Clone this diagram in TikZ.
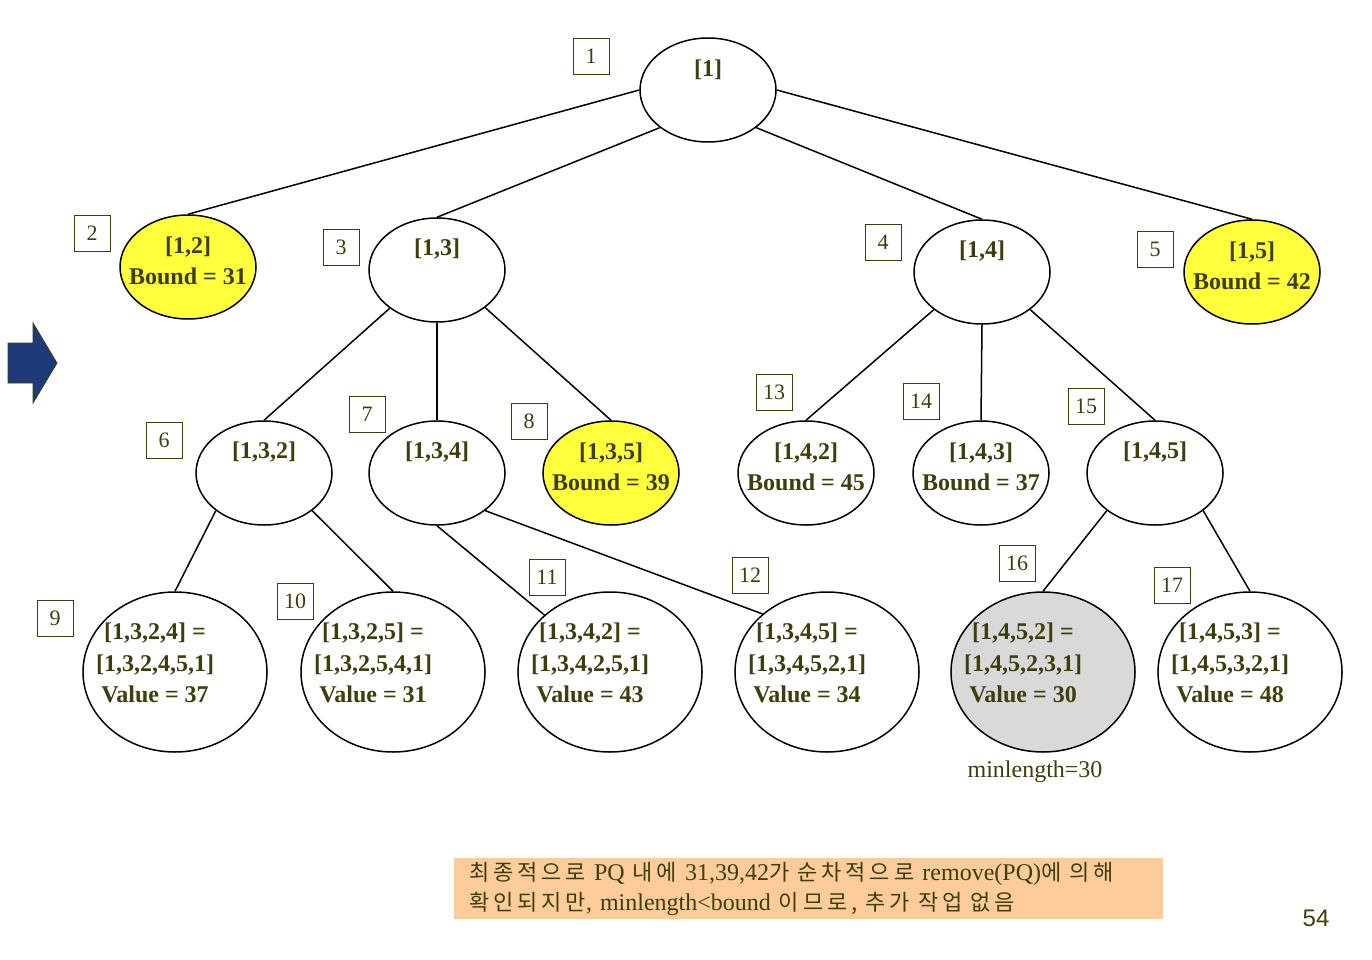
\documentclass[tikz,border=0pt]{standalone}
\usepackage{fontspec}
\setmainfont{Liberation Serif}
\newfontfamily\krfont{Noto Sans CJK KR}[LetterSpace=18]
\newfontfamily\pgnofont{Liberation Sans}
\usetikzlibrary{shapes,positioning,calc}
\definecolor{olivetext}{HTML}{3D3D0D}
\definecolor{navyarrow}{HTML}{1F3A78}
\definecolor{nodeyellow}{HTML}{FFFF3C}
\definecolor{nodegray}{HTML}{D9D9D9}
\definecolor{notepeach}{HTML}{FDCC9A}
\newcommand{\kr}[1]{{\krfont\fontsize{22}{30}\selectfont #1}}

\begin{document}
\begin{tikzpicture}[x = 1pt, y = -1pt,
  oval/.style = {ellipse, draw, line width = 1.5pt, minimum width = 136, minimum height = 104, inner sep = 0},
  leaf/.style = {ellipse, draw, line width = 1.5pt, minimum width = 184, minimum height = 160, inner sep = 0},
  lbl/.style = {font = \bfseries\fontsize{24}{31.5}\selectfont, text = olivetext, align = center, inner sep = 0},
  one/.style = {lbl, yshift = 20.5},
  two/.style = {lbl, yshift = 6},
  three/.style = {lbl, yshift = 9, xshift = -20},
  tag/.style = {draw = olivetext, line width = .8pt, minimum size = 36, inner sep = 0, font = \fontsize{22}{24}\selectfont, text = olivetext},
  link/.style = {line width = 1.5pt}]
\useasboundingbox (0,0) rectangle (1372,960);

% level 0 and 1
\node[oval, label = {[one]center:{[1]}}] (n1) at (708,90) {};
\node[oval, fill = nodeyellow, label = {[two]center:{[1,2]\\Bound = 31}}] (n12) at (188,267) {};
\node[oval, label = {[one]center:{[1,3]}}] (n13) at (437,270) {};
\node[oval, label = {[one]center:{[1,4]}}] (n14) at (982,272) {};
\node[oval, fill = nodeyellow, label = {[two]center:{[1,5]\\Bound = 42}}] (n15) at (1252,272) {};

% level 2
\node[oval, label = {[one]center:{[1,3,2]}}] (n132) at (264,473) {};
\node[oval, label = {[one]center:{[1,3,4]}}] (n134) at (437,473) {};
\node[oval, fill = nodeyellow, label = {[two]center:{[1,3,5]\\Bound = 39}}] (n135) at (611,473) {};
\node[oval, label = {[two]center:{[1,4,2]\\Bound = 45}}] (n142) at (806,473) {};
\node[oval, label = {[two]center:{[1,4,3]\\Bound = 37}}] (n143) at (981,473) {};
\node[oval, label = {[one]center:{[1,4,5]}}] (n145) at (1155,473) {};

% leaves
\node[leaf, label = {[three]center:{[1,3,2,4] =\\{[1,3,2,4,5,1]}\\Value = 37}}] (n1324) at (175,672) {};
\node[leaf, label = {[three]center:{[1,3,2,5] =\\{[1,3,2,5,4,1]}\\Value = 31}}] (n1325) at (393,672) {};
\node[leaf, label = {[three]center:{[1,3,4,2] =\\{[1,3,4,2,5,1]}\\Value = 43}}] (n1342) at (610,672) {};
\node[leaf, label = {[three]center:{[1,3,4,5] =\\{[1,3,4,5,2,1]}\\Value = 34}}] (n1345) at (827,672) {};
\node[leaf, fill = nodegray, label = {[three]center:{[1,4,5,2] =\\{[1,4,5,2,3,1]}\\Value = 30}}] (n1452) at (1043,672) {};
\node[leaf, label = {[three]center:{[1,4,5,3] =\\{[1,4,5,3,2,1]}\\Value = 48}}] (n1453) at (1250,672) {};
\node[lbl, font = \fontsize{24}{26}\selectfont] (minlen) at (1035,772) {minlength=30};

% order numbers
\node[tag] (b1) at (591,56) {1};
\node[tag] (b2) at (92,233) {2};
\node[tag] (b3) at (341,247) {3};
\node[tag] (b4) at (883,242) {4};
\node[tag] (b5) at (1155,249) {5};
\node[tag] (b6) at (164,440) {6};
\node[tag] (b7) at (367,414) {7};
\node[tag] (b8) at (529,421) {8};
\node[tag] (b9) at (55,618) {9};
\node[tag] (b10) at (295,601) {10};
\node[tag] (b11) at (547,577) {11};
\node[tag] (b12) at (750,575) {12};
\node[tag] (b13) at (774,392) {13};
\node[tag] (b14) at (921,401) {14};
\node[tag] (b15) at (1086,406) {15};
\node[tag] (b16) at (1017,563) {16};
\node[tag] (b17) at (1172,585) {17};

% tree edges
\draw[link] (n1.west) -- (n12.north);
\draw[link] (n1.218) -- (n13.north);
\draw[link] (n1.322) -- (n14.north);
\draw[link] (n1.east) -- (n15.north);
\draw[link] (n13.219) -- (n132.north);
\draw[link] (n13.south) -- (n134.north);
\draw[link] (n13.322) -- (n135.north);
\draw[link] (n14.218) -- (n142.north);
\draw[link] (n14.south) -- (n143.north);
\draw[link] (n14.322) -- (n145.north);
\draw[link] (n132.218) -- (n1324.north);
\draw[link] (n132.322) -- (n1325.north);
\draw[link] (n134.south) -- (n1342.139);
\draw[link] (n134.322) -- (n1345.138);
\draw[link] (n145.218) -- (n1452.north);
\draw[link] (n145.322) -- (n1453.north);

% pointer arrow
\draw[fill = navyarrow, draw = olivetext, line width = .8pt]
  (8,343) -- (33,343) -- (33,323) -- (57,363) -- (33,403) -- (33,383) -- (8,383) -- cycle;

% note and page number
\node[fill = notepeach, minimum width = 709, minimum height = 61, inner xsep = 15, inner ysep = 0,
  text width = 679, align = left, text = olivetext, font = \fontsize{24}{30}\selectfont] (note) at (808.5,888.5)
  {\kr{최종적으로} PQ \kr{내에} 31,39,42\kr{가 순차적으로} remove(PQ)\kr{에 의해}\\
   \kr{확인되지만}, minlength<bound \kr{이므로, 추가 작업 없음}};
\node[text = olivetext, font = \pgnofont\fontsize{24}{26}\selectfont] (pgno) at (1316,918) {54};
\end{tikzpicture}
\end{document}
